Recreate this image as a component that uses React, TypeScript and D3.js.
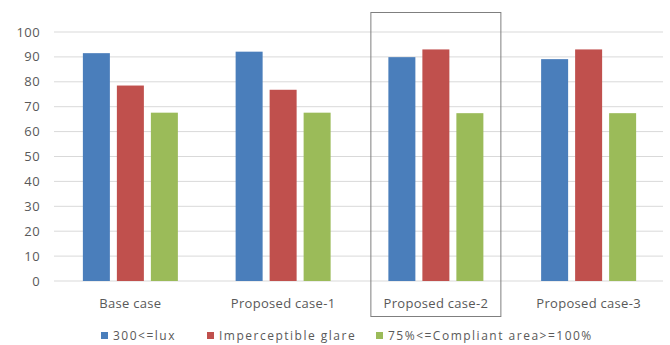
import React from "react";
import * as d3 from "d3";

const categories = ["Base case", "Proposed case-1", "Proposed case-2", "Proposed case-3"];
const seriesNames = ["300<=lux", "Imperceptible glare", "75%<=Compliant area>=100%"];
const luxValues = [91.5, 92.1, 89.9, 89.1];
const glareValues = [78.5, 76.8, 93.0, 93.0];
const areaValues = [67.6, 67.6, 67.4, 67.4];
const yTicks = [0, 10, 20, 30, 40, 50, 60, 70, 80, 90, 100];
const colors = ["#4a7ebb", "#c0504d", "#9bbb59"];
const highlighted = "Proposed case-2";

const W = 670;
const H = 345;
const margin = { left: 54, right: 5, top: 32, bottom: 64 };

export default function App() {
  const series = [luxValues, glareValues, areaValues];
  const x = d3.scaleBand<string>().domain(categories).range([margin.left, W - margin.right]);
  const y = d3.scaleLinear().domain([0, 100]).range([H - margin.bottom, margin.top]);
  const barW = 27;
  const step = 34;
  const font = "'Open Sans', 'Noto Sans', sans-serif";
  const hx = x(highlighted)!;
  const legendX = [101, 207, 376];
  return (
    <svg width={W} height={H} style={{ position: "absolute", left: 0, top: 0, background: "#fff" }}>
      {yTicks.map((t) => (
        <g key={t}>
          <line x1={margin.left} x2={W - 7} y1={y(t)} y2={y(t)} stroke="#d9d9d9" strokeWidth={1} />
          <text x={40} y={y(t)} dy="0.35em" textAnchor="end" fontSize={13} letterSpacing={0.4} fill="#595959" fontFamily={font}>
            {t}
          </text>
        </g>
      ))}
      {categories.map((c, i) => {
        const cx = x(c)! + x.bandwidth() / 2;
        return (
          <g key={c}>
            {series.map((s, j) => (
              <rect
                key={j}
                x={cx + (j - 1) * step - barW / 2}
                y={y(s[i])}
                width={barW}
                height={y(0) - y(s[i])}
                fill={colors[j]}
              />
            ))}
            <text x={cx} y={303} dy="0.35em" textAnchor="middle" fontSize={13} letterSpacing={0.3} fill="#595959" fontFamily={font}>
              {c}
            </text>
          </g>
        );
      })}
      <rect
        x={hx + (x.bandwidth() - 130) / 2}
        y={12.5}
        width={130}
        height={304}
        fill="none"
        stroke="#7f7f7f"
        strokeWidth={1}
      />
      {seriesNames.map((n, j) => (
        <g key={n}>
          <rect x={legendX[j]} y={332} width={7} height={7} fill={colors[j]} />
          <text x={legendX[j] + 12} y={336} dy="0.35em" fontSize={12} letterSpacing={1.5} fill="#595959" fontFamily={font}>
            {n}
          </text>
        </g>
      ))}
    </svg>
  );
}
